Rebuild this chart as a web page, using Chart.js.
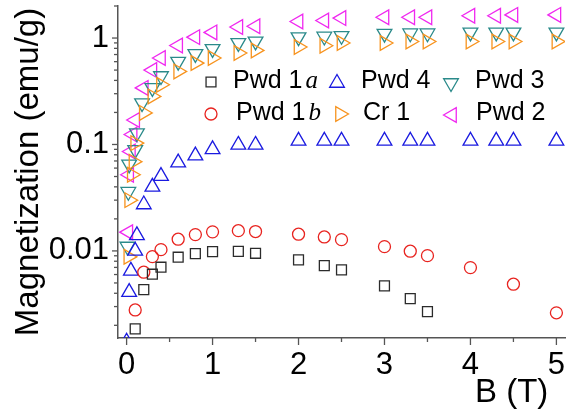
<!DOCTYPE html>
<html>
<head>
<meta charset="utf-8">
<script src="https://cdn.jsdelivr.net/npm/chart.js@4.4.1/dist/chart.umd.min.js"></script>
<style>
  html, body { margin: 0; padding: 0; background: #fff; }
  #wrap { width: 568px; height: 411px; position: relative; }
</style>
</head>
<body>
<div id="wrap"><canvas id="graficoMagnetizacion"></canvas></div>
<script>
// Datos: campo B (T) y magnetizacion (emu/g)
const pwd1aX = [0.1, 0.2, 0.3, 0.4, 0.6, 0.8, 1.0, 1.3, 1.5, 2.0, 2.3, 2.5, 3.0, 3.3, 3.5];
const pwd1aY = [0.00185, 0.00433, 0.00604, 0.00703, 0.00873, 0.00944, 0.00985, 0.0099, 0.0095, 0.00823, 0.00727, 0.00664, 0.00469, 0.00356, 0.00269];

const pwd1bX = [0.1, 0.2, 0.3, 0.4, 0.6, 0.8, 1.0, 1.3, 1.5, 2.0, 2.3, 2.5, 3.0, 3.3, 3.5, 4.0, 4.5, 5.0];
const pwd1bY = [0.00279, 0.00631, 0.00884, 0.01028, 0.01288, 0.01423, 0.0151, 0.0155, 0.0152, 0.01435, 0.01353, 0.01276, 0.01097, 0.00994, 0.00903, 0.00697, 0.00487, 0.00262];

const pwd4X = [0, 0.03, 0.05, 0.1, 0.12, 0.2, 0.3, 0.4, 0.6, 0.8, 1.0, 1.3, 1.5, 2.0, 2.3, 2.5, 3.0, 3.3, 3.5, 4.0, 4.3, 4.5, 5.0];
const pwd4Y = [0.0014, 0.0041, 0.0065, 0.0100, 0.0140, 0.0273, 0.040, 0.0505, 0.0676, 0.0785, 0.090, 0.099, 0.099, 0.108, 0.108, 0.108, 0.108, 0.108, 0.108, 0.108, 0.108, 0.108, 0.108];

const pwd3X = [0.01, 0.02, 0.03, 0.1, 0.12, 0.18, 0.3, 0.4, 0.6, 0.8, 1.0, 1.3, 1.5, 2.0, 2.3, 2.5, 3.0, 3.3, 3.5, 4.0, 4.3, 4.5, 5.0];
const pwd3Y = [0.011, 0.036, 0.065, 0.089, 0.128, 0.245, 0.34, 0.44, 0.60, 0.71, 0.79, 0.90, 0.93, 1.02, 1.035, 1.05, 1.10, 1.11, 1.11, 1.13, 1.13, 1.13, 1.13];

const cr1X = [0.02, 0.03, 0.06, 0.08, 0.1, 0.2, 0.3, 0.4, 0.6, 0.8, 1.0, 1.3, 1.5, 2.0, 2.3, 2.5, 3.0, 3.3, 3.5, 4.0, 4.3, 4.5, 5.0];
const cr1Y = [0.0088, 0.030, 0.052, 0.069, 0.103, 0.198, 0.283, 0.364, 0.486, 0.582, 0.649, 0.723, 0.765, 0.823, 0.847, 0.898, 0.898, 0.929, 0.929, 0.929, 0.929, 0.929, 0.929];

const pwd2X = [0.02, 0.03, 0.05, 0.07, 0.1, 0.2, 0.3, 0.4, 0.6, 0.8, 1.0, 1.3, 1.5, 2.0, 2.3, 2.5, 3.0, 3.3, 3.5, 4.0, 4.3, 4.5, 5.0];
const pwd2Y = [0.015, 0.052, 0.086, 0.124, 0.17, 0.34, 0.50, 0.65, 0.85, 1.02, 1.13, 1.27, 1.29, 1.43, 1.46, 1.54, 1.57, 1.57, 1.57, 1.62, 1.62, 1.65, 1.65];

// Ejes
const xTickLabels = [0, 1, 2, 3, 4, 5];
const yTickValues = [0.01, 0.1, 1];

const FUENTE = '"Liberation Sans", Arial, sans-serif';

function puntos(xs, ys) {
    return xs.map((x, i) => ({ x: x, y: ys[i] }));
}

function serie(label, xs, ys, color, style, radius, rotation) {
    return {
        label: label,
        data: puntos(xs, ys),
        showLine: false,
        pointStyle: style,
        pointRadius: radius,
        pointRotation: rotation,
        pointBorderWidth: 1.3,
        borderColor: color,
        backgroundColor: 'rgba(0,0,0,0)',
        clip: 0
    };
}

const datasets = [
    serie('Pwd 1a', pwd1aX, pwd1aY, '#2b2b2b', 'rect', 7, 0),
    serie('Pwd 1b', pwd1bX, pwd1bY, '#e8231f', 'circle', 6, 0),
    serie('Pwd 4', pwd4X, pwd4Y, '#1a1ae0', 'triangle', 8.5, 0),
    serie('Cr 1', cr1X, cr1Y, '#f7931e', 'triangle', 8.5, 90),
    serie('Pwd 3', pwd3X, pwd3Y, '#2a8a8a', 'triangle', 8.5, 180),
    serie('Pwd 2', pwd2X, pwd2Y, '#f028f0', 'triangle', 8.5, -90)
];

// Marcas de los ejes, titulo del eje x y leyenda
const ejesYLeyenda = {
    id: 'ejesYLeyenda',
    afterDraw(chart) {
        const ctx = chart.ctx;
        const area = chart.chartArea;
        const xs = chart.scales.x;
        const ys = chart.scales.y;
        ctx.save();
        ctx.strokeStyle = '#555';
        ctx.lineWidth = 1.3;

        xs.ticks.forEach(t => {
            const px = xs.getPixelForValue(t.value);
            const len = Number.isInteger(t.value) ? 7 : 4;
            ctx.beginPath();
            ctx.moveTo(px, area.bottom);
            ctx.lineTo(px, area.bottom + len);
            ctx.stroke();
        });

        for (let e = -3; e <= 0; e++) {
            for (let k = 1; k <= 9; k++) {
                const v = k * Math.pow(10, e);
                if (v < ys.min || v > ys.max) continue;
                const py = ys.getPixelForValue(v);
                ctx.beginPath();
                ctx.moveTo(area.left, py);
                ctx.lineTo(area.left - (k === 1 ? 6 : 4), py);
                ctx.stroke();
            }
        }

        // titulo eje x
        ctx.fillStyle = '#000';
        ctx.font = '33px ' + FUENTE;
        ctx.textAlign = 'left';
        ctx.textBaseline = 'alphabetic';
        ctx.fillText('B (T)', 475, 402);

        // leyenda
        const items = [
            { ds: 0, mx: 211, my: 82, tx: 233, ty: 81, txt: 'Pwd 1', it: 'a' },
            { ds: 2, mx: 337, my: 83, tx: 361, ty: 81, txt: 'Pwd 4' },
            { ds: 4, mx: 451, my: 83, tx: 475, ty: 81, txt: 'Pwd 3' },
            { ds: 1, mx: 211, my: 114, tx: 236, ty: 113, txt: 'Pwd 1', it: 'b' },
            { ds: 3, mx: 340, my: 114, tx: 363, ty: 113, txt: 'Cr 1' },
            { ds: 5, mx: 452, my: 115, tx: 476, ty: 113, txt: 'Pwd 2' }
        ];
        items.forEach(item => {
            const d = chart.data.datasets[item.ds];
            ctx.strokeStyle = d.borderColor;
            ctx.fillStyle = 'rgba(0,0,0,0)';
            ctx.lineWidth = d.pointBorderWidth;
            Chart.helpers.drawPoint(ctx, {
                pointStyle: d.pointStyle,
                radius: d.pointRadius,
                rotation: d.pointRotation,
                borderWidth: d.pointBorderWidth
            }, item.mx, item.my);
            ctx.fillStyle = '#000';
            ctx.textBaseline = 'middle';
            ctx.font = '25px ' + FUENTE;
            ctx.fillText(item.txt, item.tx, item.ty);
            if (item.it) {
                const w = ctx.measureText(item.txt).width;
                ctx.font = 'italic 25px "Liberation Serif", "DejaVu Serif", serif';
                ctx.fillText(item.it, item.tx + w + 3, item.ty);
            }
        });
        ctx.restore();
    }
};

const ctx = document.getElementById('graficoMagnetizacion').getContext('2d');
const chart = new Chart(ctx, {
    type: 'scatter',
    data: { datasets: datasets },
    options: {
        responsive: true,
        maintainAspectRatio: false,
        animation: false,
        events: [],
        layout: { autoPadding: false, padding: { top: 6, right: 3, left: 0, bottom: 0 } },
        plugins: {
            legend: { display: false },
            tooltip: { enabled: false }
        },
        scales: {
            x: {
                type: 'linear',
                min: -0.1,
                max: 5.1,
                grid: { display: true, drawOnChartArea: false, drawTicks: true, tickLength: 7, tickColor: 'rgba(0,0,0,0)' },
                border: { display: true, color: '#555', width: 1.5 },
                ticks: {
                    stepSize: 0.5,
                    includeBounds: false,
                    autoSkip: false,
                    maxRotation: 0,
                    padding: 2,
                    color: '#000',
                    font: { size: 31, family: FUENTE },
                    callback: function (v) {
                        return xTickLabels.includes(v) ? String(v) : '';
                    }
                },
                afterFit: function (s) {
                    s.height = 73;
                    s.paddingLeft = 0;
                    s.paddingRight = 0;
                }
            },
            y: {
                type: 'logarithmic',
                min: 0.00152,
                max: 2.0,
                grid: { display: true, drawOnChartArea: false, drawTicks: true, tickLength: 6, tickColor: 'rgba(0,0,0,0)' },
                border: { display: true, color: '#555', width: 1.5 },
                afterBuildTicks: function (s) {
                    s.ticks = yTickValues.map(v => ({ value: v }));
                },
                ticks: {
                    padding: 3,
                    color: '#000',
                    font: { size: 31, family: FUENTE },
                    callback: function (v) {
                        return String(v);
                    }
                },
                title: {
                    display: true,
                    text: 'Magnetization (emu/g)',
                    color: '#000',
                    font: { size: 33, family: FUENTE },
                    padding: { top: 9, bottom: 0 }
                },
                afterFit: function (s) {
                    s.width = 118;
                    s.paddingTop = 0;
                    s.paddingBottom = 0;
                }
            }
        }
    },
    plugins: [ejesYLeyenda]
});
</script>
</body>
</html>
